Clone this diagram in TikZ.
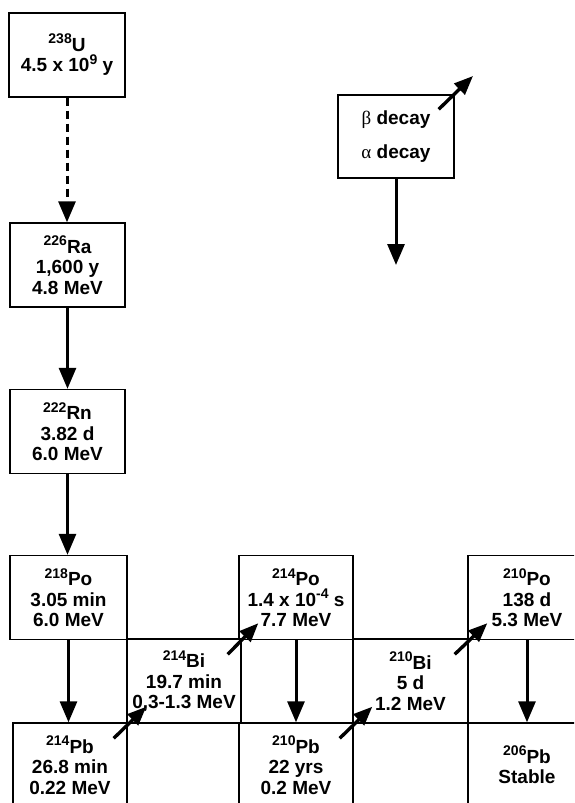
\documentclass[tikz,border=0pt]{standalone}
\usepackage{fontspec}
\setmainfont{Liberation Sans}
\newfontfamily\greekfont{Liberation Serif}
\usetikzlibrary{arrows.meta,calc}
\newcommand{\sups}[1]{\raisebox{7.5pt}{\fontsize{14}{14}\selectfont #1}}

\begin{document}
\begin{tikzpicture}[
  x=1pt,y=-1pt,
  font=\fontsize{19}{20.5}\selectfont\bfseries,
  >={Triangle[length=21pt,width=17pt]},
  nuc/.style={draw,line width=1.4pt,minimum width=115pt,minimum height=84pt,inner sep=1pt,align=center},
  alphaarrow/.style={->,line width=3pt},
  betaarrow/.style={-{Triangle[length=19pt,width=15pt]},line width=3.4pt},
]
\useasboundingbox (0,0) rectangle (574,803);
\clip (0,0) rectangle (574,803);

% ===================== MAIN CHAIN (left column) =====================
\node[nuc,minimum width=116pt] (u238) at (67,55) {\sups{238}U\\4.5 x 10\sups{9} y};
\node[nuc] (ra226) at (67.5,265) {\sups{226}Ra\\1,600 y\\4.8 MeV};
\node[nuc] (rn222) at (67.5,431.5) {\sups{222}Rn\\3.82 d\\6.0 MeV};
\node[nuc,minimum width=117pt] (po218) at (68.5,597.5) {\sups{218}Po\\3.05 min\\6.0 MeV};

\draw[alphaarrow,dash pattern=on 8pt off 5pt] (u238.south) -- (u238.south |- ra226.north);
\draw[alphaarrow] (ra226.south) -- (ra226.south |- rn222.north);
\draw[alphaarrow] (rn222.south) -- (rn222.south |- po218.north);

% ===================== BOTTOM ZIG-ZAG =====================
\node[nuc,minimum width=114pt] (pb214) at (70,765) {\sups{214}Pb\\26.8 min\\0.22 MeV};
\node[nuc,minimum width=114pt] (bi214) at (184,681) {\sups{214}Bi\\19.7 min\\0,3-1.3 MeV};
\node[nuc,minimum width=114pt] (po214) at (296,597.5) {\sups{214}Po\\1.4 x 10\sups{-4} s\\7.7 MeV};
\node[nuc,minimum width=114pt] (pb210) at (296,765) {\sups{210}Pb\\22 yrs\\0.2 MeV};
\node[nuc] (bi210) at (410.5,681) {\sups{210}Bi\\5 d\\1.2 MeV};
\node[nuc,minimum width=118pt] (po210) at (527,597.5) {\sups{210}Po\\138 d\\5.3 MeV};
\node[nuc,minimum width=118pt] (pb206) at (527,765) {\sups{206}Pb\\Stable};

% alpha steps go straight down
\foreach \from/\to in {po218/pb214,po214/pb210,po210/pb206}
  \draw[alphaarrow] (\from.south) -- (\from.south |- \to.north);
% beta steps cross the shared corner
\foreach \from/\to in {pb214/bi214,bi214/po214,pb210/bi210,bi210/po210}
  \draw[betaarrow] ($(\from.north east)+(-14,16)$) -- ($(\to.south west)+(20,-17)$);

% ===================== LEGEND =====================
\node[nuc,minimum width=116pt,minimum height=83pt] (legend) at (396,136.5)
  {{\greekfont\mdseries β} decay\\[13pt]{\greekfont\mdseries α} decay};
\coordinate (betatip) at (473,76);
\coordinate (alphatip) at (394,265);
\draw[betaarrow] ($(legend.north east)+(-16,15)$) -- (betatip);
\draw[alphaarrow] (legend.south) -- (legend.south |- alphatip);

\end{tikzpicture}
\end{document}
